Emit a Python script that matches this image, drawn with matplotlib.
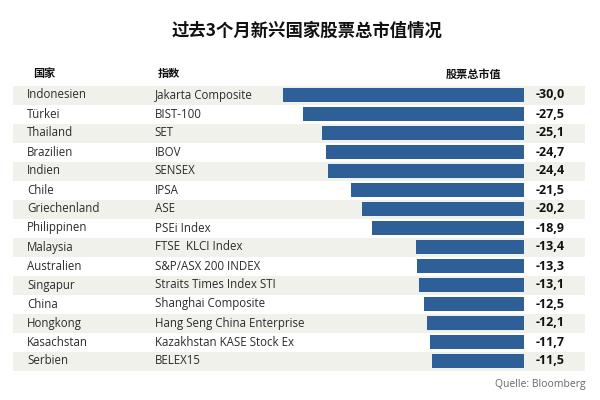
import matplotlib.pyplot as plt
import matplotlib.transforms as mtransforms

plt.rcParams['font.family'] = ['Open Sans', 'Noto Sans CJK SC', 'DejaVu Sans']

countries = ["Indonesien", "Türkei", "Thailand", "Brazilien", "Indien", "Chile",
             "Griechenland", "Philippinen", "Malaysia", "Australien", "Singapur",
             "China", "Hongkong", "Kasachstan", "Serbien"]
indices = ["Jakarta Composite", "BIST-100", "SET", "IBOV", "SENSEX", "IPSA", "ASE",
           "PSEi Index", "FTSE  KLCI Index", "S&P/ASX 200 INDEX",
           "Straits Times Index STI", "Shanghai Composite",
           "Hang Seng China Enterprise", "Kazakhstan KASE Stock Ex", "BELEX15"]
values = [-30.0, -27.5, -25.1, -24.7, -24.4, -21.5, -20.2, -18.9,
          -13.4, -13.3, -13.1, -12.5, -12.1, -11.7, -11.5]

bar_color = "#2f5f97"
stripe_color = "#f1f1ec"
text_color = "#2b2b2b"

fig = plt.figure(figsize=(6, 4), dpi=100)
ax = fig.add_axes([13/600, 1 - 370.5/400, 572/600, 285/400])

n = len(values)
for i in range(n):
    if i % 2 == 0:
        ax.axhspan(i - 0.5, i + 0.5, color=stripe_color, lw=0, zorder=0)

ax.barh(range(n), values, height=0.74, color=bar_color, zorder=2)

ax.set_xlim(-63.6, 7.6)
ax.set_ylim(n - 0.5, -0.5)
ax.axis("off")

trans = mtransforms.blended_transform_factory(ax.transAxes, ax.transData)
for i in range(n):
    ax.text(0.0245, i, countries[i], transform=trans, va="center", ha="left",
            fontsize=8.3, color=text_color)
    ax.text(0.248, i, indices[i], transform=trans, va="center", ha="left",
            fontsize=8.3, color=text_color)
    ax.text(0.914, i, f"{values[i]:.1f}".replace(".", ","), transform=trans,
            va="center", ha="left", fontsize=9, fontweight="bold", color="#111111")

# headers
cjk = ['Noto Sans CJK SC', 'DejaVu Sans']
fig.text(307/600, 1 - 31/400, "过去3个月新兴国家股票总市值情况", ha="center", va="center",
         fontsize=12.5, fontweight="bold", family=cjk, color="#111111")
fig.text(33/600, 1 - 73/400, "国家", ha="left", va="center", fontsize=8,
         fontweight="bold", family=cjk, color="#111111")
fig.text(158/600, 1 - 73/400, "指数", ha="left", va="center", fontsize=8,
         fontweight="bold", family=cjk, color="#111111")
fig.text(473/600, 1 - 74/400, "股票总市值", ha="center", va="center", fontsize=8,
         fontweight="bold", family=cjk, color="#111111")
fig.text(586/600, 1 - 384/400, "Quelle: Bloomberg", ha="right", va="center",
         fontsize=7.5, color="#666666")

fig.savefig("out.png", dpi=100)
